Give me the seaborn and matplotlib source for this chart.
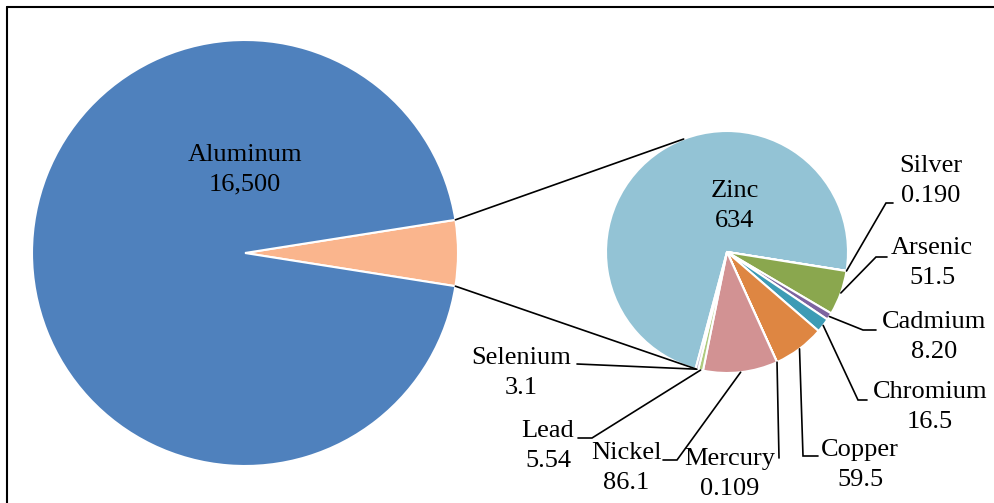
import numpy as np
import matplotlib
matplotlib.use("Agg")
import matplotlib.pyplot as plt
import seaborn as sns

# ---------------- data ----------------
main_label = "Aluminum"
main_value = 16500
main_text = "16,500"

sub_labels = ["Zinc", "Silver", "Arsenic", "Cadmium", "Chromium",
              "Copper", "Mercury", "Nickel", "Lead", "Selenium"]
sub_values = [634, 0.190, 51.5, 8.20, 16.5, 59.5, 0.109, 86.1, 5.54, 3.1]
sub_texts = ["634", "0.190", "51.5", "8.20", "16.5",
             "59.5", "0.109", "86.1", "5.54", "3.1"]

# ---------------- style ----------------
sns.set_theme(style="white")
plt.rcParams["font.family"] = ["Liberation Serif", "DejaVu Serif"]
plt.rcParams["text.color"] = "black"

main_colors = ["#FAB58D", "#4F81BD"]          # other, aluminum
sub_colors = sns.color_palette([
    "#93C3D5",  # Zinc
    "#4F81BD",  # Silver
    "#8AA74E",  # Arsenic
    "#7D64A0",  # Cadmium
    "#3D9BB5",  # Chromium
    "#DE8642",  # Copper
    "#C0504D",  # Mercury
    "#D29293",  # Nickel
    "#AFCB7E",  # Lead
    "#A99BBF",  # Selenium
])

W, H = 995, 503
fig = plt.figure(figsize=(W / 100, H / 100), dpi=100)
ax = fig.add_axes([0, 0, 1, 1])


def P(x, y):
    return (x, H - y)


big_c, big_r = P(245, 253), 213
small_c, small_r = P(727, 252), 121
wp = dict(edgecolor="white", linewidth=1.5)
FS = 19
LS = 1.45

other_sum = sum(sub_values)
theta_other = 360.0 * other_sum / (other_sum + main_value)

w1, _ = ax.pie([other_sum, main_value], colors=main_colors,
               startangle=-theta_other / 2, counterclock=True,
               center=big_c, radius=big_r, wedgeprops=wp)

w2, _ = ax.pie(sub_values, colors=sub_colors, startangle=254.95,
               counterclock=False, center=small_c, radius=small_r,
               wedgeprops=wp)


def on_circle(c, r, ang):
    a = np.deg2rad(ang)
    return c[0] + r * np.cos(a), c[1] + r * np.sin(a)


# connector lines between pies
ow = w1[0]
top_a = on_circle(big_c, big_r, ow.theta2)
bot_a = on_circle(big_c, big_r, ow.theta1)
top_b = on_circle(small_c, small_r, 111)
bot_b = on_circle(small_c, small_r, w2[0].theta2)
ax.plot([top_a[0], top_b[0]], [top_a[1], top_b[1]], color="black", lw=1.2)
ax.plot([bot_a[0], bot_b[0]], [bot_a[1], bot_b[1]], color="black", lw=1.2)

# labels inside pies
ax.text(*P(245, 170), f"{main_label}\n{main_text}", ha="center", va="center",
        fontsize=FS, linespacing=LS, color="black")
ax.text(*P(735, 206), f"{sub_labels[0]}\n{sub_texts[0]}", ha="center",
        va="center", fontsize=FS, linespacing=LS, color="black")

# outside labels: text centre, elbow, leader end (pixel layout)
layout = {
    "Silver":   ((931, 181), (886, 203), (893, 203)),
    "Arsenic":  ((932, 263), (876, 257), (887, 257)),
    "Cadmium":  ((934, 337), (863, 330), (876, 330)),
    "Chromium": ((930, 407), (858, 400), (867, 400)),
    "Copper":   ((860, 465), (803, 456), (818, 456)),
    "Mercury":  ((730, 474), (779, 458), (779, 458)),
    "Nickel":   ((626, 468), (677, 460), (663, 460)),
    "Lead":     ((548, 446), (592, 438), (578, 438)),
    "Selenium": ((521, 373), (577, 364), (577, 364)),
}

for i, name in enumerate(sub_labels):
    if name not in layout:
        continue
    tpos, elbow, end = layout[name]
    w = w2[i]
    mid = (w.theta1 + w.theta2) / 2
    s = on_circle(small_c, small_r, mid)
    e1 = P(*elbow)
    e2 = P(*end)
    ax.plot([s[0], e1[0], e2[0]], [s[1], e1[1], e2[1]], color="black",
            lw=1.2, solid_joinstyle="miter")
    ax.text(*P(*tpos), f"{name}\n{sub_texts[i]}", ha="center", va="center",
            fontsize=FS, linespacing=LS, color="black")

# chart frame (left and top visible)
ax.plot([7, 7], [-5, H - 7], color="black", lw=1.5, clip_on=False)
ax.plot([7, W + 5], [H - 7, H - 7], color="black", lw=1.5, clip_on=False)

ax.set_xlim(0, W)
ax.set_ylim(0, H)
ax.set_aspect("equal")
ax.axis("off")

fig.savefig("out.png", dpi=100, facecolor="white")
